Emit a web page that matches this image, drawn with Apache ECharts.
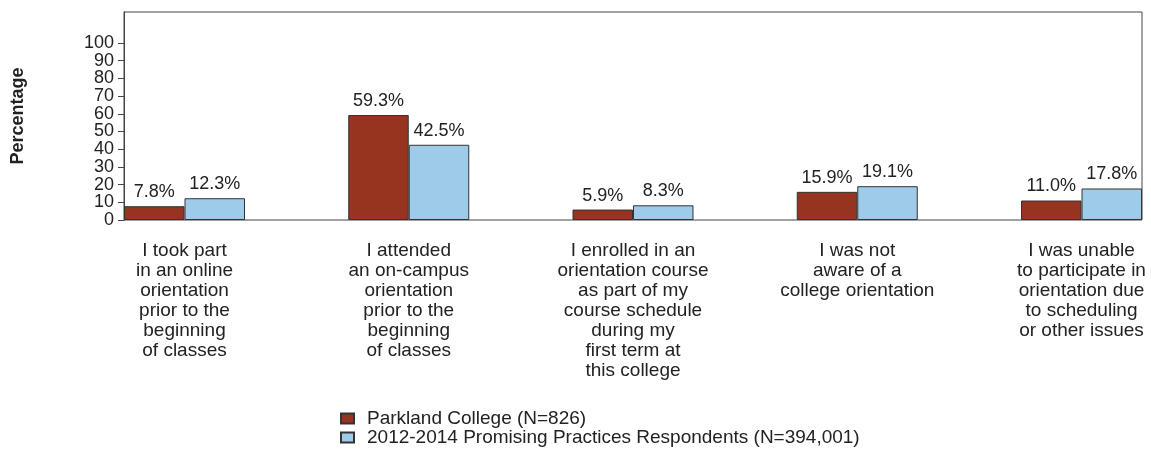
<!DOCTYPE html>
<html>
<head>
<meta charset="utf-8">
<script src="https://cdn.jsdelivr.net/npm/echarts@6/dist/echarts.min.js"></script>
<style>
  html, body { margin: 0; padding: 0; background: #fff; }
  #chart { width: 1151px; height: 449px; }
</style>
</head>
<body>
<div id="chart"></div>
<script>
// categories (x axis)
var categories = [
  "I took part\nin an online\norientation\nprior to the\nbeginning\nof classes",
  "I attended\nan on-campus\norientation\nprior to the\nbeginning\nof classes",
  "I enrolled in an\norientation course\nas part of my\ncourse schedule\nduring my\nfirst term at\nthis college",
  "I was not\naware of a\ncollege orientation",
  "I was unable\nto participate in\norientation due\nto scheduling\nor other issues"
];
// series values (percent)
var parkland = [7.8, 59.3, 5.9, 15.9, 11.0];
var promising = [12.3, 42.5, 8.3, 19.1, 17.8];
// y tick labels (split in two sets so the tightly packed labels are not dropped)
var yTicksEven = [0, 20, 40, 60, 80, 100];
var yTicksOdd = [10, 30, 50, 70, 90];

var seriesNames = ["Parkland College (N=826)", "2012-2014 Promising Practices Respondents (N=394,001)"];
var font = "'Liberation Sans', Arial, sans-serif";
var yMax = 117.5;

var myChart = echarts.init(document.getElementById("chart"));

function barLabel() {
  return {
    show: true,
    position: "top",
    distance: 5,
    fontFamily: font,
    fontSize: 18,
    color: "#222",
    formatter: function (p) { return p.value.toFixed(1) + "%"; }
  };
}

function tickAxis(values, withName) {
  var ax = {
    gridIndex: 0,
    type: "value",
    position: "left",
    min: 0,
    max: yMax,
    axisLine: { show: withName, lineStyle: { color: "#444", width: 1 } },
    axisTick: { show: true, length: 6, customValues: values, lineStyle: { color: "#444" } },
    axisLabel: {
      margin: 10, fontFamily: font, fontSize: 18, color: "#222",
      customValues: values, showMinLabel: true, showMaxLabel: true
    },
    splitLine: { show: false }
  };
  if (withName) {
    ax.name = "Percentage";
    ax.nameLocation = "middle";
    ax.nameRotate = 90;
    ax.nameGap = 97;
    ax.nameTextStyle = { fontFamily: font, fontSize: 18, fontWeight: "bold", color: "#222" };
  }
  return ax;
}

var option = {
  animation: false,
  backgroundColor: "#fff",
  textStyle: { fontFamily: font },
  legend: {
    orient: "vertical",
    left: 340,
    top: 409,
    padding: 0,
    icon: "rect",
    itemWidth: 13,
    itemHeight: 10,
    itemGap: 0,
    textStyle: { fontFamily: font, fontSize: 19, color: "#222", lineHeight: 19, padding: [0, 0, 0, 8] },
    data: seriesNames
  },
  grid: [
    // frame + y axis
    { left: 124, right: 9, top: 12, bottom: 229, show: true, borderColor: "#444", borderWidth: 1, backgroundColor: "transparent" },
    // bars (category centres on the pair centres)
    { left: 184.5, right: 69.5, top: 12, bottom: 229 }
  ],
  xAxis: [
    { gridIndex: 0, type: "category", data: categories, show: false },
    {
      gridIndex: 1,
      type: "category",
      data: categories,
      boundaryGap: false,
      axisLine: { show: false },
      axisTick: { show: false },
      axisLabel: {
        interval: 0,
        margin: 21,
        fontFamily: font,
        fontSize: 19,
        lineHeight: 20,
        color: "#222",
        align: "center"
      }
    }
  ],
  yAxis: [
    tickAxis(yTicksEven, true),
    tickAxis(yTicksOdd, false),
    { gridIndex: 1, type: "value", min: 0, max: yMax, show: false, splitLine: { show: false } }
  ],
  series: [
    {
      name: seriesNames[0],
      type: "bar",
      xAxisIndex: 1,
      yAxisIndex: 2,
      data: parkland,
      barWidth: 60.5,
      barGap: "0%",
      clip: false,
      itemStyle: { color: "#963420", borderColor: "#333", borderWidth: 1 },
      label: barLabel()
    },
    {
      name: seriesNames[1],
      type: "bar",
      xAxisIndex: 1,
      yAxisIndex: 2,
      data: promising,
      barWidth: 60.5,
      barGap: "0%",
      clip: false,
      itemStyle: { color: "#9fcbeb", borderColor: "#333", borderWidth: 1 },
      label: barLabel()
    }
  ]
};

myChart.setOption(option);
</script>
</body>
</html>
